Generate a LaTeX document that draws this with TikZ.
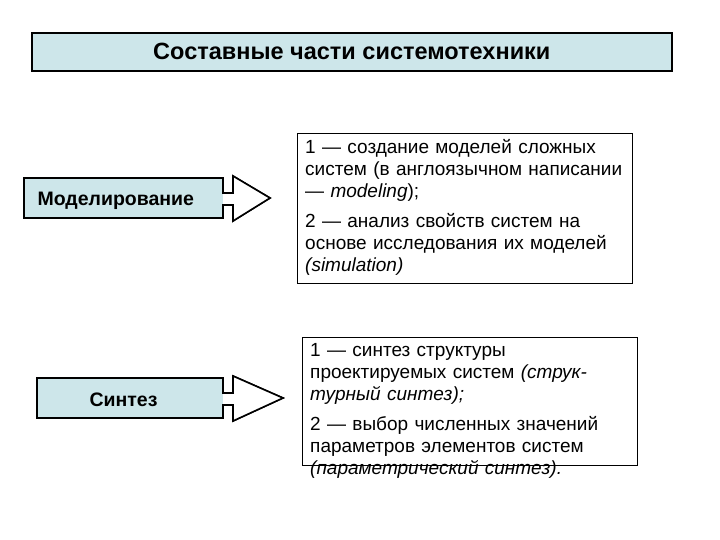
\documentclass[tikz,border=0pt]{standalone}
\usepackage{fontspec}
\setmainfont{Liberation Sans}
\begin{document}
\begin{tikzpicture}[x=1pt,y=-1pt,
  lb/.style={fill={rgb,255:red,205;green,230;blue,234},draw=black,line width=1.6pt},
  tb/.style={draw=black,line width=1pt,fill=white},
  body/.style={font=\fontsize{19}{22}\selectfont,align=left,anchor=north west,inner sep=0pt,text width=328pt}]
\useasboundingbox (0,0) rectangle (720,540);
\node[lb,minimum width=640pt,minimum height=38pt,anchor=north west,font=\bfseries\fontsize{23.5}{26}\selectfont] (title) at (31,32) {Составные части системотехники};
% arrow 1
\draw[lb] (24,178) -- (223,178) -- (223,193) -- (233,193) -- (233,176) -- (270,198) -- (233,221) -- (233,205) -- (223,205) -- (223,218) -- (24,218) -- cycle;
\fill[white,draw=black,line width=1.6pt] (223,193) -- (233,193) -- (233,176) -- (270,198) -- (233,221) -- (233,205) -- (223,205);
\node[font=\bfseries\fontsize{19.5}{22}\selectfont,anchor=west] (m) at (34,201) {Моделирование};
\node[tb,minimum width=335pt,minimum height=150pt,anchor=north west] (b1) at (297,133) {};
\node[body] (t1) at (305,139) {1 — создание моделей сложных систем (в англоязычном написании — \textit{modeling});\\[8pt]2 — анализ свойств систем на основе исследования их моделей \textit{(simulation)}};
% arrow 2
\draw[lb] (37,378) -- (223,378) -- (223,393) -- (233,393) -- (233,376) -- (283,398) -- (233,421) -- (233,405) -- (223,405) -- (223,418) -- (37,418) -- cycle;
\fill[white,draw=black,line width=1.6pt] (223,393) -- (233,393) -- (233,376) -- (283,398) -- (233,421) -- (233,405) -- (223,405);
\node[font=\bfseries\fontsize{19.5}{22}\selectfont,anchor=west] (s) at (86,400) {Синтез};
\node[tb,minimum width=335pt,minimum height=128pt,anchor=north west] (b2) at (302,337) {};
\node[body] (t2) at (310,343) {1 — синтез структуры проектируемых систем \textit{(струк-турный синтез);}\\[8pt]2 — выбор численных значений параметров элементов систем \textit{(параметрический синтез).}};
\end{tikzpicture}
\end{document}
